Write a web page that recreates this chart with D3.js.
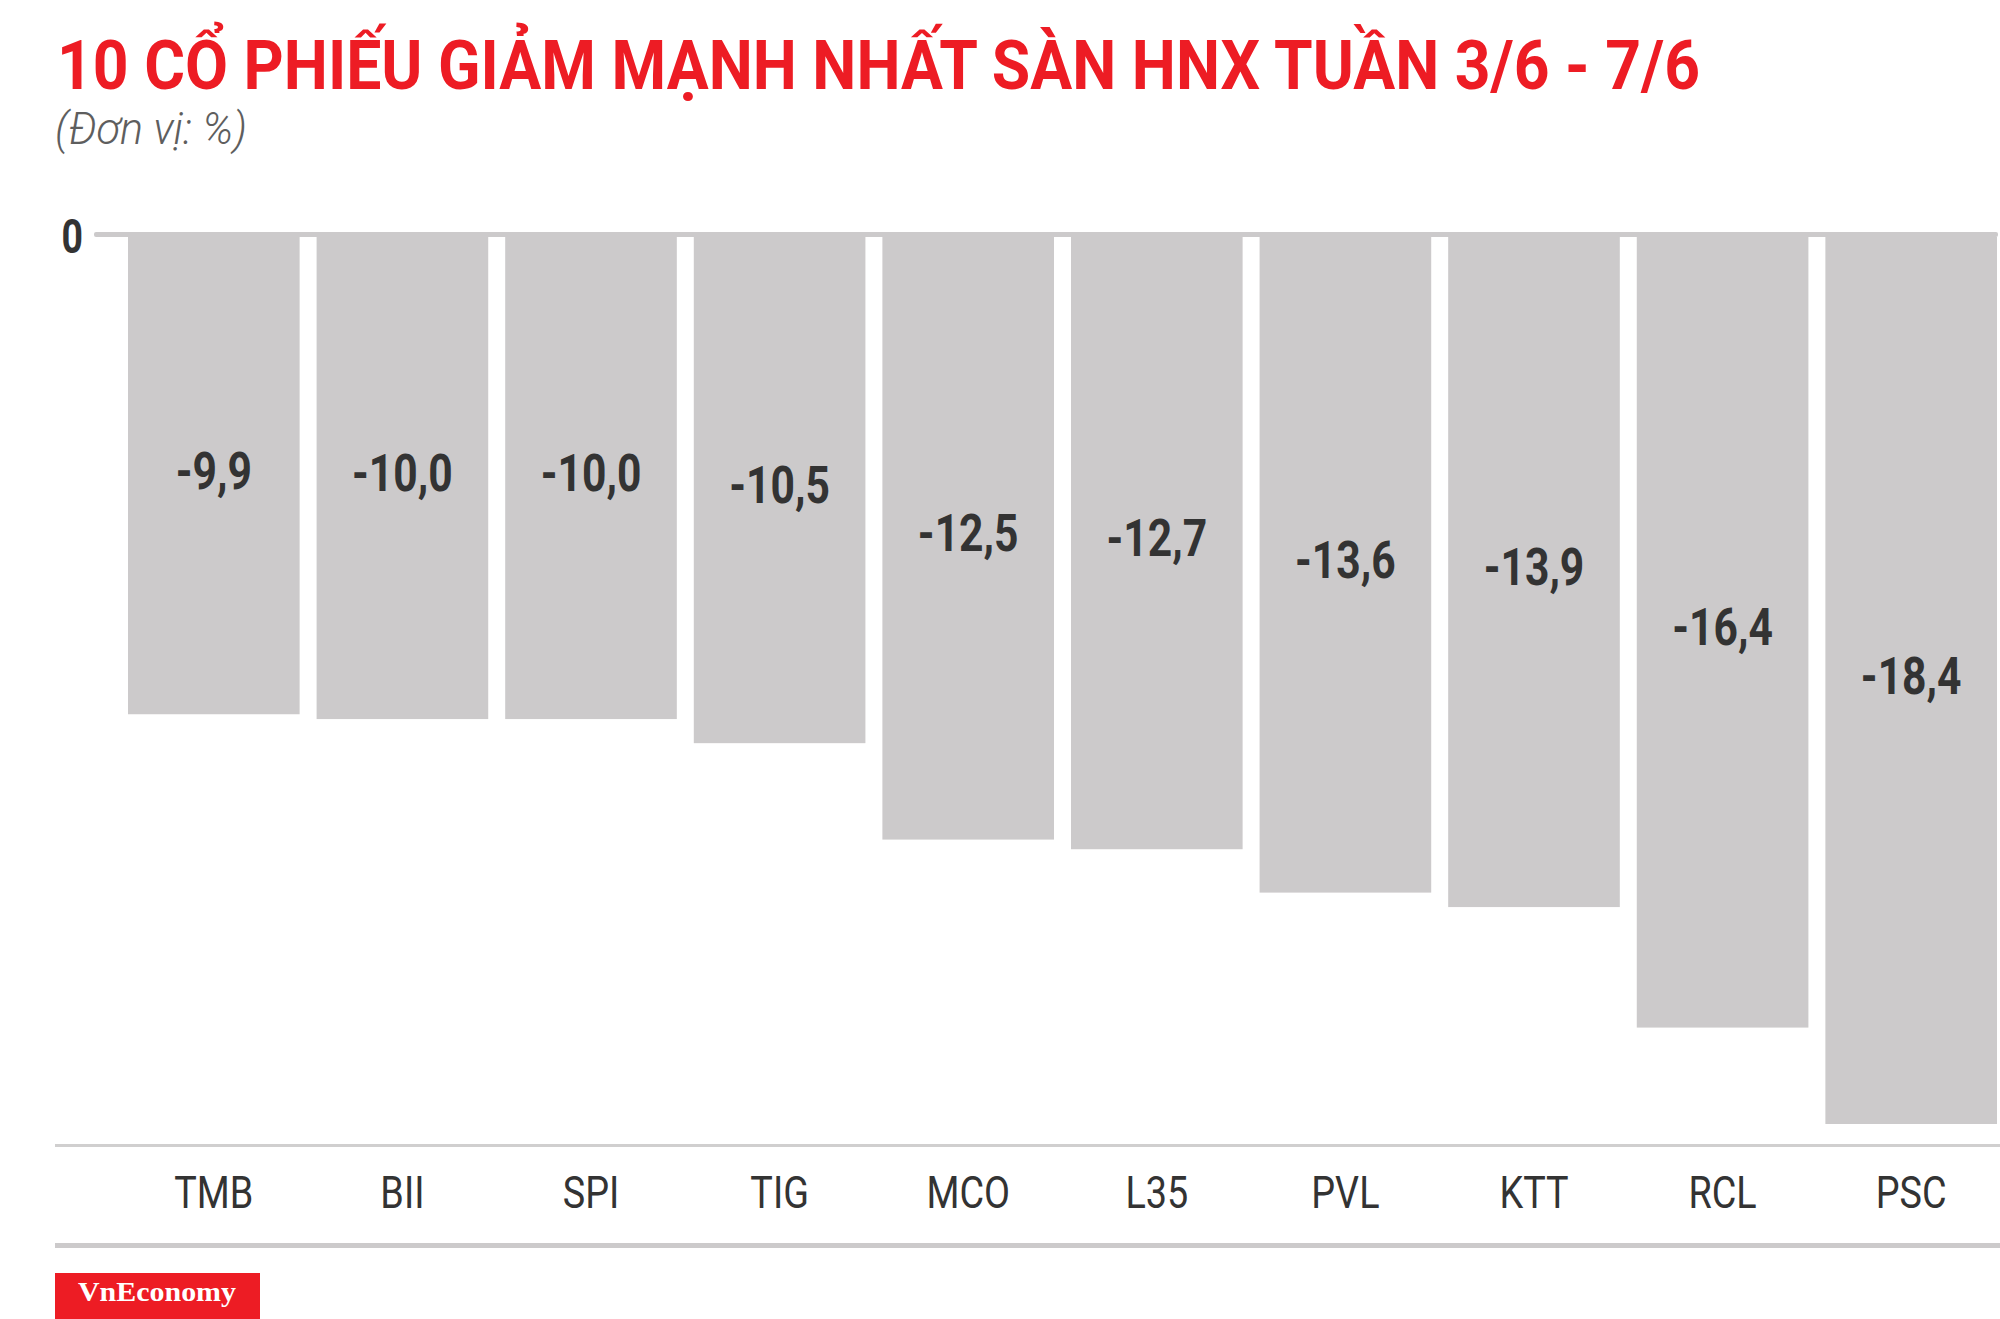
<!DOCTYPE html>
<html>
<head>
<meta charset="utf-8">
<script src="https://cdn.jsdelivr.net/npm/d3@7"></script>
<style>
  html, body { margin: 0; padding: 0; background: #ffffff; }
  svg { display: block; }
</style>
</head>
<body>
<svg id="chart" width="2000" height="1319"></svg>
<script>
// ---- data ----
const categories = ["TMB", "BII", "SPI", "TIG", "MCO", "L35", "PVL", "KTT", "RCL", "PSC"];
const values = [-9.9, -10.0, -10.0, -10.5, -12.5, -12.7, -13.6, -13.9, -16.4, -18.4];
const yTicks = [0];
const titleText = "10 CỔ PHIẾU GIẢM MẠNH NHẤT SÀN HNX TUẦN 3/6 - 7/6";
const subtitleText = "(Đơn vị: %)";
const brandText = "VnEconomy";

// ---- layout ----
const W = 2000, H = 1319;
const barColor = "#cccacb";
const textDark = "#333333";
const red = "#ed1c24";

const svg = d3.select("#chart");

const x = d3.scaleBand()
  .domain(categories)
  .range([128, 1997])
  .paddingInner(0.09)
  .paddingOuter(0);

const y = d3.scaleLinear()
  .domain([0, -18.4])
  .range([237, 1124]);

const fmt = v => d3.format(".1f")(v).replace("−", "-").replace(".", ",");

// title
svg.append("text")
  .attr("x", 57).attr("y", 89)
  .attr("font-family", "Roboto, sans-serif")
  .attr("font-weight", 700)
  .attr("font-size", 68)
  .attr("fill", red)
  .attr("textLength", 1643)
  .attr("lengthAdjust", "spacingAndGlyphs")
  .text(titleText);

// subtitle
svg.append("text")
  .attr("x", 55).attr("y", 144)
  .attr("font-family", "Roboto, sans-serif")
  .attr("font-weight", 300)
  .attr("font-style", "italic")
  .attr("font-size", 44)
  .attr("fill", "#5e5e5e")
  .attr("textLength", 192)
  .attr("lengthAdjust", "spacingAndGlyphs")
  .text(subtitleText);

// bars
svg.append("g").selectAll("rect")
  .data(categories)
  .join("rect")
  .attr("x", d => x(d))
  .attr("width", x.bandwidth())
  .attr("y", y(0))
  .attr("height", (d, i) => y(values[i]) - y(0))
  .attr("fill", barColor);

// zero line
svg.append("rect")
  .attr("x", 94).attr("y", y(0) - 5)
  .attr("width", W - 94 - 2).attr("height", 5)
  .attr("rx", 2)
  .attr("fill", barColor);

// y tick "0"
const yAxis = d3.axisLeft(y).tickValues(yTicks).tickSize(0).tickFormat(d => String(d));
const yg = svg.append("g").attr("transform", "translate(83,0)").call(yAxis);
yg.select(".domain").remove();
yg.selectAll("text")
  .attr("x", 0).attr("dy", null).attr("y", 15)
  .attr("text-anchor", "end")
  .attr("transform", "scale(0.78,1)")
  .attr("font-family", "Roboto, sans-serif")
  .attr("font-weight", 700)
  .attr("font-size", 48)
  .attr("fill", textDark);

// value labels
const labels = svg.append("g").selectAll("g")
  .data(categories)
  .join("g")
  .attr("transform", (d, i) => {
    const cx = x(d) + x.bandwidth() / 2;
    const cy = (y(0) + y(values[i])) / 2 + 13;
    return "translate(" + cx + "," + cy + ")";
  });
labels.append("text")
  .attr("text-anchor", "middle")
  .attr("transform", "scale(0.82,1)")
  .attr("font-family", "Roboto, sans-serif")
  .attr("font-weight", 700)
  .attr("font-size", 52)
  .attr("fill", textDark)
  .text((d, i) => fmt(values[i]));

// axis lines
svg.append("rect").attr("x", 55).attr("y", 1144).attr("width", W - 55).attr("height", 3).attr("fill", "#d0cfcf");
svg.append("rect").attr("x", 55).attr("y", 1243).attr("width", W - 55).attr("height", 5).attr("fill", "#cccacb");

// category axis
const xAxis = d3.axisBottom(x).tickSize(0).tickPadding(0);
const xg = svg.append("g").attr("transform", "translate(0,1208)").call(xAxis);
xg.select(".domain").remove();
xg.selectAll("text")
  .attr("y", 0).attr("dy", null)
  .attr("transform", "scale(0.84,1)")
  .attr("font-family", "Roboto, sans-serif")
  .attr("font-weight", 400)
  .attr("font-size", 45)
  .attr("fill", textDark);

// brand box
svg.append("rect")
  .attr("x", 55).attr("y", 1273)
  .attr("width", 205).attr("height", 46)
  .attr("fill", red);
svg.append("text")
  .attr("x", 157).attr("y", 1301)
  .attr("text-anchor", "middle")
  .attr("font-family", "'Liberation Serif', 'Times New Roman', serif")
  .attr("font-weight", 700)
  .attr("font-size", 28)
  .attr("fill", "#ffffff")
  .attr("textLength", 158)
  .attr("lengthAdjust", "spacingAndGlyphs")
  .text(brandText);
</script>
</body>
</html>
